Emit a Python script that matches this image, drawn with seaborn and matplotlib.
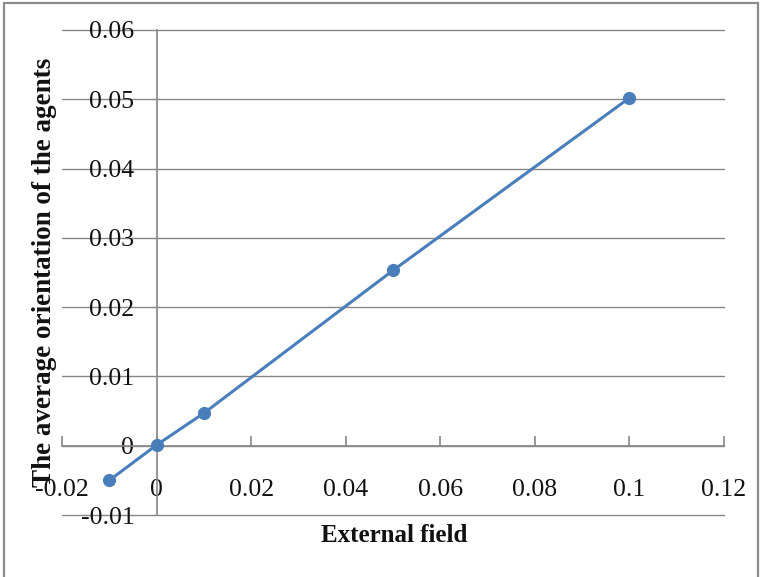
import matplotlib
matplotlib.use("Agg")
import matplotlib.pyplot as plt
import matplotlib.patches as mpatches
import seaborn as sns
import pandas as pd

# Simulation results: external field vs mean agent orientation
external_field = [-0.01, 0.0, 0.01, 0.05, 0.1]
avg_orientation = [-0.0050, 0.0001, 0.0047, 0.0253, 0.0502]

x_ticks = [-0.02, 0, 0.02, 0.04, 0.06, 0.08, 0.1, 0.12]
x_tick_labels = ["-0.02", "0", "0.02", "0.04", "0.06", "0.08", "0.1", "0.12"]
y_ticks = [-0.01, 0, 0.01, 0.02, 0.03, 0.04, 0.05, 0.06]
y_tick_labels = ["-0.01", "0", "0.01", "0.02", "0.03", "0.04", "0.05", "0.06"]

df = pd.DataFrame({"field": external_field, "orientation": avg_orientation})

sns.set_style("white")
plt.rcParams["font.family"] = ["Liberation Serif", "DejaVu Serif"]

W, H = 763, 577
fig = plt.figure(figsize=(W / 100, H / 100), dpi=100)
ax = fig.add_axes([62 / W, 1 - 515 / H, (724 - 62) / W, (515 - 30) / H])

grey = "#868686"
blue = "#4A7EBB"

ax.set_xlim(-0.02, 0.12)
ax.set_ylim(-0.01, 0.06)

# horizontal gridlines
ax.set_yticks(y_ticks)
ax.yaxis.grid(True, color=grey, linewidth=1.0)
ax.xaxis.grid(False)
ax.set_axisbelow(True)

sns.lineplot(data=df, x="field", y="orientation", ax=ax, color=blue,
             linewidth=2.2, marker="o", markersize=9.5, markeredgewidth=0,
             zorder=5)

# axes crossing at the origin
for side in ("top", "right"):
    ax.spines[side].set_visible(False)
ax.spines["left"].set_position(("data", 0))
ax.spines["bottom"].set_position(("data", 0))
for side in ("left", "bottom"):
    ax.spines[side].set_color(grey)
    ax.spines[side].set_linewidth(1.2)

ax.set_xticks(x_ticks)
ax.set_xticklabels(x_tick_labels)
ax.set_yticklabels(y_tick_labels)
ax.tick_params(axis="x", direction="in", length=7, width=1.2, color=grey,
               pad=24, labelsize=18.5, labelcolor="#111111")
ax.tick_params(axis="y", direction="out", length=0, pad=16,
               labelsize=18.5, labelcolor="#111111")
ax.yaxis.set_ticks_position("left")
ax.xaxis.set_ticks_position("bottom")
for gl in ax.get_ygridlines():
    gl.set_clip_on(False)

ax.set_xlabel("")
ax.set_ylabel("")
fig.text(394 / W, 1 - 535 / H, "External field", ha="center", va="center",
         fontsize=18, fontweight="bold", color="#111111")
fig.text(45 / W, 1 - 272 / H, "The average orientation of the agents",
         ha="center", va="center", rotation=90, fontsize=19.5,
         fontweight="bold", color="#111111")

# outer chart frame
fig.patches.append(mpatches.Rectangle((4 / W, -0.05), (758 - 4) / W,
                                      1 - 3 / H + 0.05,
                                      transform=fig.transFigure, fill=False,
                                      edgecolor="#8c8c8c", linewidth=1.6))

fig.savefig("out.png", dpi=100)
